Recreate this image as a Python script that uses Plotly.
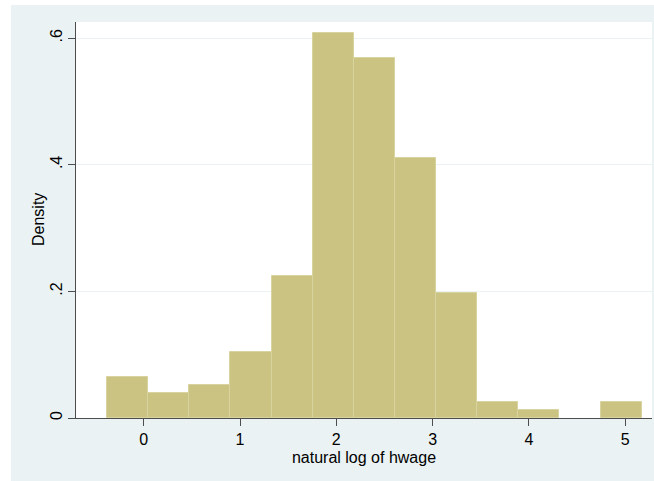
import plotly.graph_objects as go

# Histogram of natural log of hwage (density scale)
bin_start = -0.38
bin_width = 0.427
density = [0.0648, 0.039, 0.0516, 0.105, 0.2243, 0.6077, 0.568, 0.410,
           0.197, 0.0253, 0.0121, 0.0, 0.0253]
x_ticks = [0, 1, 2, 3, 4, 5]
x_ticklabels = ["0", "1", "2", "3", "4", "5"]
y_ticks = [0, 0.2, 0.4, 0.6]
y_ticklabels = ["0", ".2", ".4", ".6"]

centers = [bin_start + bin_width * (i + 0.5) for i in range(len(density))]

BG = "#eaf2f3"
FILL = "#cbc382"
EDGE = "#d9d39f"
AXIS = "#4d4d4d"
FONT = "Liberation Sans, Arial, sans-serif"

fig = go.Figure()
fig.add_trace(go.Bar(
    x=centers, y=density, width=[bin_width] * len(density),
    marker=dict(color=FILL,
                line=dict(color=EDGE, width=[1 if d > 0 else 0 for d in density])),
    hoverinfo="x+y", showlegend=False,
))

W, H = 654, 481
L, R, T, B = 76, 2, 22, 63
pw, ph = W - L - R, H - T - B

# white strips outside the Stata graph region (left and top)
fig.add_shape(type="rect", xref="paper", yref="paper", layer="above",
              x0=-L / pw - 0.01, x1=(11 - L) / pw,
              y0=-B / ph - 0.01, y1=(ph + T) / ph + 0.01,
              fillcolor="white", line=dict(width=0))
fig.add_shape(type="rect", xref="paper", yref="paper", layer="above",
              x0=-L / pw - 0.01, x1=(pw + R) / pw + 0.01,
              y0=(ph + T - 5) / ph, y1=(ph + T) / ph + 0.01,
              fillcolor="white", line=dict(width=0))

fig.add_annotation(text="Density", xref="paper", yref="paper",
                   x=(38 - L) / pw, y=0.5, textangle=-90, showarrow=False,
                   xanchor="center", yanchor="middle",
                   font=dict(size=16, color="black"))

fig.update_layout(
    width=W, height=H,
    margin=dict(l=L, r=R, t=T, b=B, pad=0),
    paper_bgcolor=BG, plot_bgcolor="white",
    bargap=0,
    font=dict(family=FONT, size=16, color="black"),
    xaxis=dict(
        range=[-0.703, 5.278], tickvals=x_ticks, ticktext=x_ticklabels,
        showgrid=False, zeroline=False, showline=True, linecolor=AXIS, linewidth=1,
        ticks="outside", ticklen=7, tickcolor=AXIS, tickwidth=1,
        tickfont=dict(size=16),
        title=dict(text="natural log of hwage", font=dict(size=16), standoff=4),
    ),
    yaxis=dict(
        range=[0, 0.6256], tickvals=y_ticks, ticktext=y_ticklabels,
        showgrid=True, gridcolor=BG, gridwidth=1, zeroline=False,
        showline=True, linecolor=AXIS, linewidth=1,
        ticks="outside", ticklen=7, tickcolor=AXIS, tickwidth=1,
        tickangle=-90, tickfont=dict(size=16),
    ),
)

fig.write_html("out.html")
